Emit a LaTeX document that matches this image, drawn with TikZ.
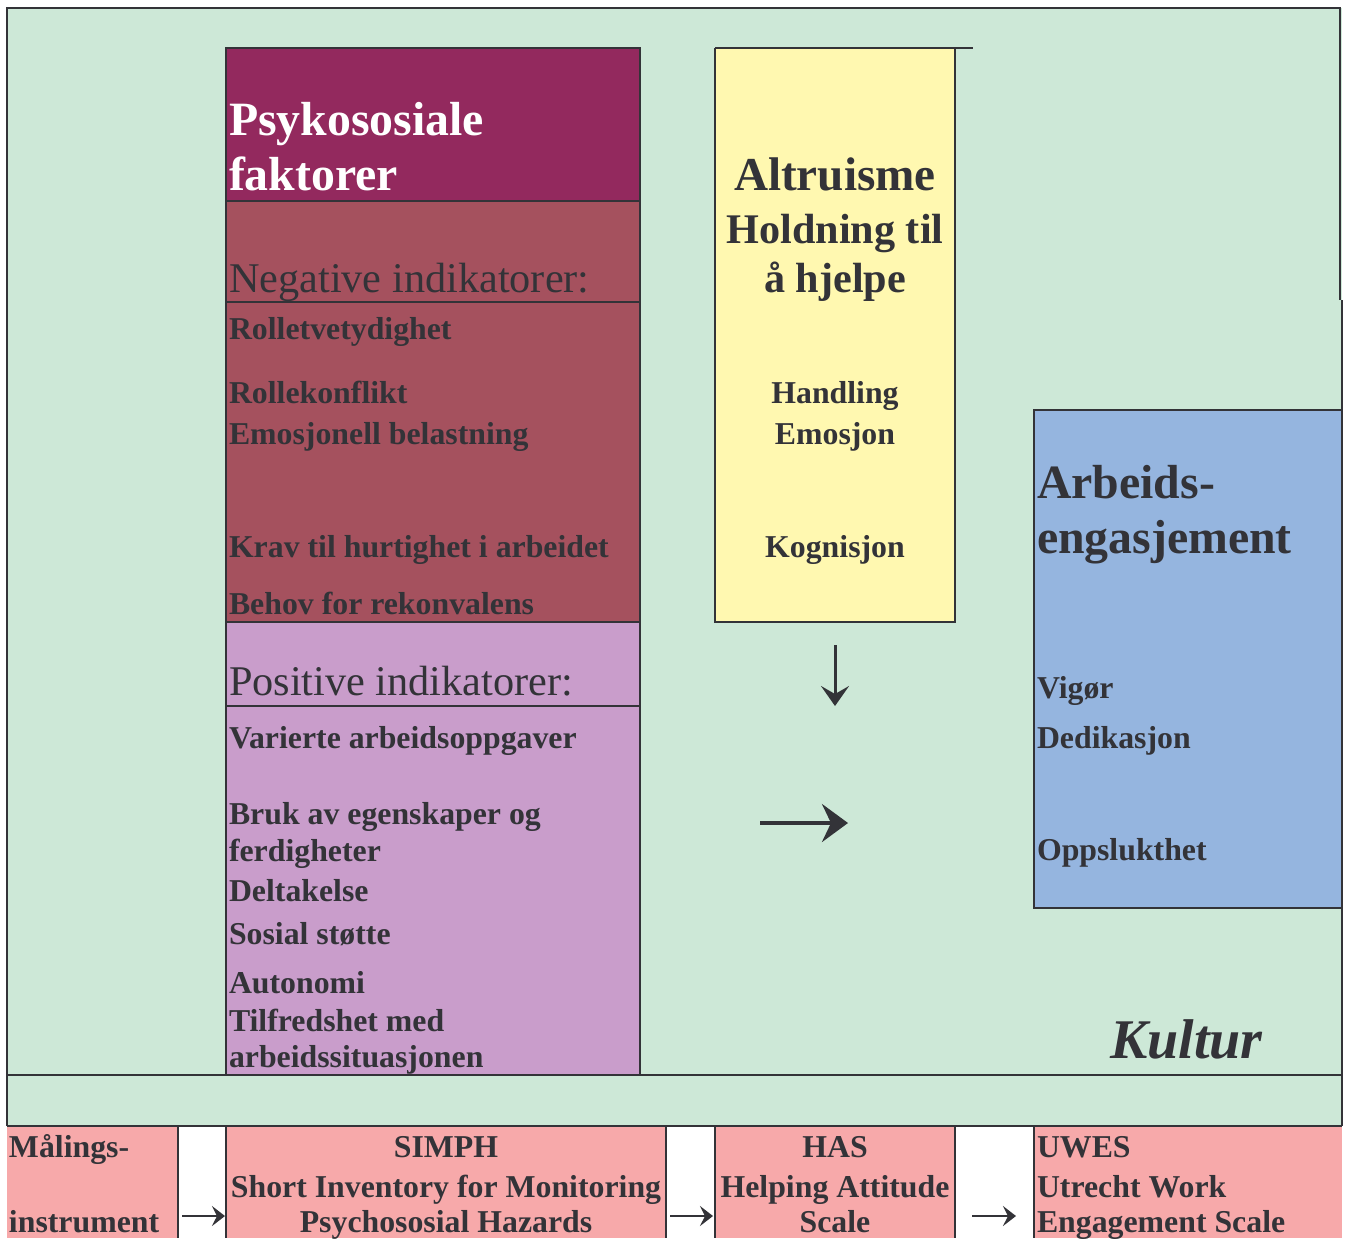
\documentclass[tikz,border=0pt]{standalone}
\usepackage{fontspec}
\setmainfont{Liberation Serif}
\usetikzlibrary{arrows.meta}
\definecolor{bgreen}{HTML}{CDE8D7}
\definecolor{magentabox}{HTML}{93295E}
\definecolor{negbox}{HTML}{A5515E}
\definecolor{posbox}{HTML}{C99DCB}
\definecolor{yellowbox}{HTML}{FFF8B0}
\definecolor{bluebox}{HTML}{95B5DF}
\definecolor{pinkbox}{HTML}{F7A9AA}
\definecolor{ink}{HTML}{333338}
\begin{document}
\begin{tikzpicture}[x=0.5pt,y=-0.5pt,
  rule/.style={draw=ink,line width=1.2pt},
  txt/.style={inner sep=0pt,outer sep=0pt,text=ink,font=\bfseries\fontsize{15.9}{18}\selectfont},
  lt/.style={txt,anchor=base west},
  ct/.style={txt,anchor=base},
  head/.style={font=\bfseries\fontsize{23.9}{28}\selectfont},
  sub/.style={font=\fontsize{21.15}{25}\selectfont},
  bigarrow/.style={draw=ink,line width=2pt,-{Stealth[length=13pt,width=19pt,inset=4.5pt]}},
  downarrow/.style={draw=ink,line width=1.5pt,-{Stealth[length=10pt,width=14pt,inset=4pt]}},
  smallarrow/.style={draw=ink,line width=1pt,-{Stealth[length=6.5pt,width=10pt,inset=2.5pt]}}
]
\useasboundingbox (0,0) rectangle (1348,1238);
\fill[white] (0,0) rectangle (1348,1238);
% background areas
\fill[bgreen] (7,8) rectangle (1342,1126);
% bottom pink cells
\fill[pinkbox] (7,1127) rectangle (178,1238);
\fill[pinkbox] (226,1127) rectangle (666,1238);
\fill[pinkbox] (715,1127) rectangle (955,1238);
\fill[pinkbox] (1034,1127) rectangle (1342,1238);
% left column boxes
\fill[magentabox] (226,48) rectangle (640,201);
\fill[negbox] (226,201) rectangle (640,622);
\fill[posbox] (226,622) rectangle (640,1075);
% yellow box
\fill[yellowbox] (715,48) rectangle (955,622);
% blue box
\fill[bluebox] (1034,410) rectangle (1342,908);

% rules
\draw[rule] (7,1126) -- (7,8) -- (1340,8) -- (1340,300);
\draw[rule] (1342,300) -- (1342,1126);
\draw[rule] (7,1075) -- (1342,1075);
\draw[rule] (7,1126) -- (1342,1126);
\draw[rule] (226,48) rectangle (640,1075);
\draw[rule] (226,201) -- (640,201);
\draw[rule] (226,302) -- (640,302);
\draw[rule] (226,622) -- (640,622);
\draw[rule] (226,706) -- (640,706);
\draw[rule] (715,48) -- (973,48);
\draw[rule] (715,48) -- (715,622) -- (955,622) -- (955,48);
\draw[rule] (1342,410) -- (1034,410) -- (1034,908) -- (1342,908);
\draw[draw=ink,line width=0.8pt] (178,1127) -- (178,1238);
\draw[draw=ink,line width=0.8pt] (226,1127) -- (226,1238);
\draw[draw=ink,line width=0.8pt] (666,1127) -- (666,1238);
\draw[draw=ink,line width=0.8pt] (715,1127) -- (715,1238);
\draw[draw=ink,line width=0.8pt] (955,1127) -- (955,1238);
\draw[draw=ink,line width=0.8pt] (1034,1127) -- (1034,1238);

% left column text
\node[lt,head,text=white] (psy1) at (229,135) {Psykososiale};
\node[lt,head,text=white] (psy2) at (229,190) {faktorer};
\node[lt,sub] (neg) at (229,292) {Negative indikatorer:};
\node[lt] (n1) at (229,339) {Rolletvetydighet};
\node[lt] (n2) at (229,403) {Rollekonflikt};
\node[lt] (n3) at (229,444) {Emosjonell belastning};
\node[lt] (n4) at (229,557) {Krav til hurtighet i arbeidet};
\node[lt] (n5) at (229,614) {Behov for rekonvalens};
\node[lt,sub] (pos) at (229,695) {Positive indikatorer:};
\node[lt] (p1) at (229,748) {Varierte arbeidsoppgaver};
\node[lt] (p2) at (229,824) {Bruk av egenskaper og};
\node[lt] (p2b) at (229,861) {ferdigheter};
\node[lt] (p3) at (229,901) {Deltakelse};
\node[lt] (p4) at (229,944) {Sosial støtte};
\node[lt] (p5) at (229,993) {Autonomi};
\node[lt] (p6) at (229,1031) {Tilfredshet med};
\node[lt] (p6b) at (229,1067) {arbeidssituasjonen};

% yellow text
\node[ct,font=\bfseries\fontsize{23.6}{28}\selectfont] (alt) at (835,190) {Altruisme};
\node[ct,font=\bfseries\fontsize{21.1}{25}\selectfont] (hold1) at (835,243) {Holdning til};
\node[ct,font=\bfseries\fontsize{21.1}{25}\selectfont] (hold2) at (835,292) {å hjelpe};
\node[ct] (y1) at (835,403) {Handling};
\node[ct] (y2) at (835,444) {Emosjon};
\node[ct] (y3) at (835,557) {Kognisjon};

% blue text
\node[lt,head] (arb1) at (1037,498) {Arbeids-};
\node[lt,head] (arb2) at (1037,553) {engasjement};
\node[lt] (b1) at (1037,698) {Vigør};
\node[lt] (b2) at (1037,748) {Dedikasjon};
\node[lt] (b3) at (1037,860) {Oppslukthet};

% Kultur
\node[lt,font=\bfseries\itshape\fontsize{28}{34}\selectfont] (kultur) at (1110,1058) {Kultur};

% bottom row
\node[lt] (m1) at (9,1157) {Målings-};
\node[lt] (m2) at (9,1232) {instrument};
\node[ct] (s1) at (446,1157) {SIMPH};
\node[ct] (s2) at (446,1197) {Short Inventory for Monitoring};
\node[ct] (s3) at (446,1232) {Psychososial Hazards};
\node[ct] (h1) at (835,1157) {HAS};
\node[ct] (h2) at (835,1197) {Helping Attitude};
\node[ct] (h3) at (835,1232) {Scale};
\node[lt] (u1) at (1037,1157) {UWES};
\node[lt] (u2) at (1037,1197) {Utrecht Work};
\node[lt] (u3) at (1037,1232) {Engagement Scale};

% arrows
\coordinate (da0) at (835,645);
\coordinate (da1) at (835,706);
\coordinate (ra0) at (760,823);
\coordinate (ra1) at (848,823);
\coordinate (ba0) at (182,1216);
\coordinate (ba1) at (225,1216);
\coordinate (bb0) at (670,1216);
\coordinate (bb1) at (713,1216);
\coordinate (bc0) at (972,1216);
\coordinate (bc1) at (1016,1216);
\draw[downarrow] (da0) -- (da1);
\draw[bigarrow] (ra0) -- (ra1);
\draw[smallarrow] (ba0) -- (ba1);
\draw[smallarrow] (bb0) -- (bb1);
\draw[smallarrow] (bc0) -- (bc1);
\end{tikzpicture}
\end{document}
